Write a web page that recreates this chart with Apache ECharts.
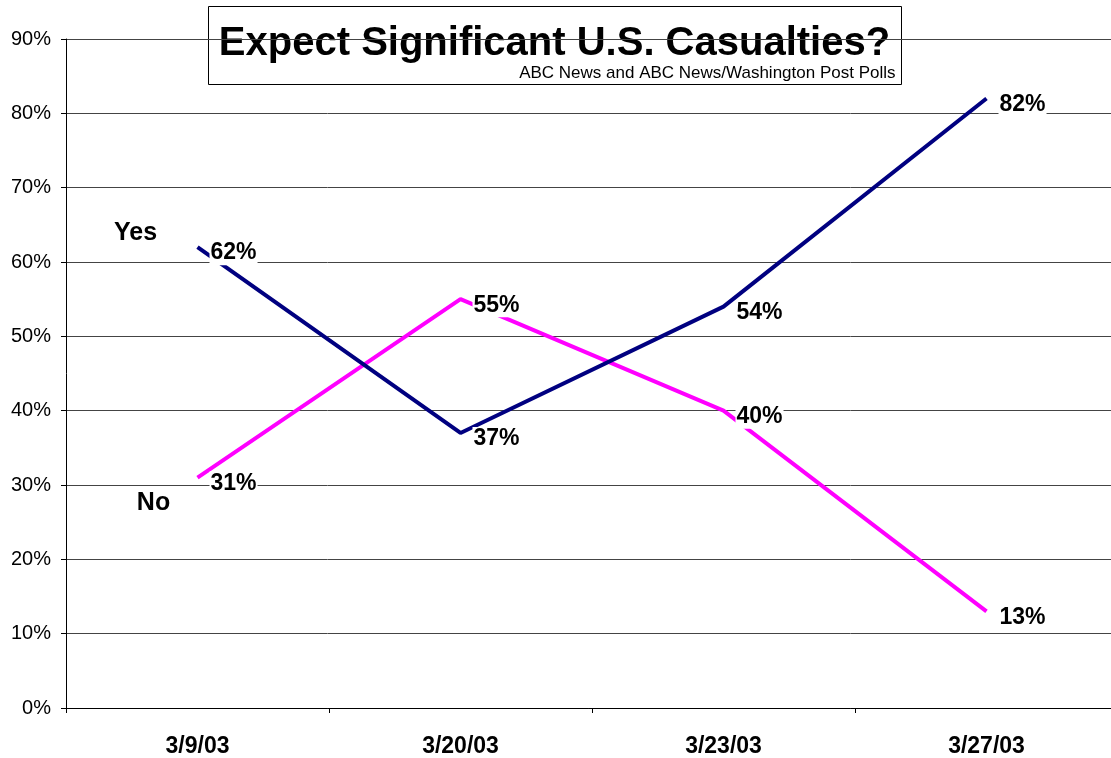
<!DOCTYPE html>
<html>
<head>
<meta charset="utf-8">
<title>Expect Significant U.S. Casualties?</title>
<script src="https://cdn.jsdelivr.net/npm/echarts@6/dist/echarts.min.js"></script>
<style>
  html, body { margin: 0; padding: 0; background: #fff; overflow: hidden; }
  #chart { width: 1111px; height: 758px; }
</style>
</head>
<body>
<div id="chart"></div>
<script>
// poll dates and results (percent)
const dates = ['3/9/03', '3/20/03', '3/23/03', '3/27/03']
const yesValues = [62, 37, 54, 82]
const noValues = [31, 55, 40, 13]

const font = '"Liberation Sans", Arial, sans-serif'

const pctLabel = {
  show: true,
  position: 'right',
  distance: 5,
  offset: [7, 6],
  formatter: '{c}%',
  color: '#000',
  fontFamily: font,
  fontWeight: 'bold',
  fontSize: 23,
  lineHeight: 24,
  backgroundColor: '#fff',
  padding: [0, 1, 0, 1],
}

// "Yes" / "No" tags next to the first point of each line
function nameTag(text, value, offset, bg) {
  return {
    symbol: 'circle',
    symbolSize: 0,
    label: {
      show: true,
      formatter: text,
      offset: offset,
      color: '#000',
      fontFamily: font,
      fontWeight: 'bold',
      fontSize: 25,
      backgroundColor: bg,
      padding: [0, 6, 0, 6],
    },
    data: [{ coord: [dates[0], value] }],
  }
}

const chart = echarts.init(document.getElementById('chart'))
chart.setOption({
  animation: false,
  backgroundColor: '#fff',
  grid: {
    left: 66,
    width: 1052,
    top: 39,
    bottom: 50,
    outerBoundsMode: 'none',
  },
  xAxis: {
    type: 'category',
    data: dates,
    boundaryGap: true,
    axisLine: { lineStyle: { color: '#000', width: 1 } },
    axisTick: { show: true, length: 5, lineStyle: { color: '#000' } },
    axisLabel: {
      margin: 27,
      color: '#000',
      fontFamily: font,
      fontWeight: 'bold',
      fontSize: 23,
    },
  },
  yAxis: {
    type: 'value',
    min: 0,
    max: 90,
    interval: 10,
    axisLine: { show: true, lineStyle: { color: '#000', width: 1 } },
    axisTick: { show: true, length: 5, lineStyle: { color: '#000' } },
    axisLabel: {
      margin: 15,
      formatter: '{value}%',
      color: '#000',
      fontFamily: font,
      fontSize: 20,
    },
    splitLine: { show: true, lineStyle: { color: '#444', width: 1 } },
  },
  series: [
    {
      name: 'Yes',
      type: 'line',
      data: yesValues,
      symbol: 'circle',
      symbolSize: 0,
      showSymbol: true,
      lineStyle: { color: '#000080', width: 4 },
      itemStyle: { color: '#000080' },
      label: pctLabel,
      markPoint: nameTag('Yes', yesValues[0], [-62, -14], 'transparent'),
      z: 3,
    },
    {
      name: 'No',
      type: 'line',
      data: noValues,
      symbol: 'circle',
      symbolSize: 0,
      showSymbol: true,
      lineStyle: { color: '#ff00ff', width: 4 },
      itemStyle: { color: '#ff00ff' },
      label: pctLabel,
      markPoint: nameTag('No', noValues[0], [-44, 26], '#fff'),
      z: 2,
    },
  ],
  graphic: [
    {
      type: 'group',
      left: 208,
      top: 6,
      z: 100,
      children: [
        {
          type: 'rect',
          shape: { x: 0, y: 0, width: 693, height: 78 },
          style: { fill: '#fff', stroke: '#000', lineWidth: 1 },
        },
        {
          type: 'text',
          x: 346,
          y: 17,
          style: {
            text: 'Expect Significant U.S. Casualties?',
            textAlign: 'center',
            fill: '#000',
            font: 'bold 40px "Liberation Sans", Arial, sans-serif',
          },
        },
        {
          type: 'text',
          x: 687,
          y: 58,
          style: {
            text: 'ABC News and ABC News/Washington Post Polls',
            textAlign: 'right',
            fill: '#000',
            font: '17px "Liberation Sans", Arial, sans-serif',
          },
        },
      ],
    },
  ],
})
</script>
</body>
</html>
